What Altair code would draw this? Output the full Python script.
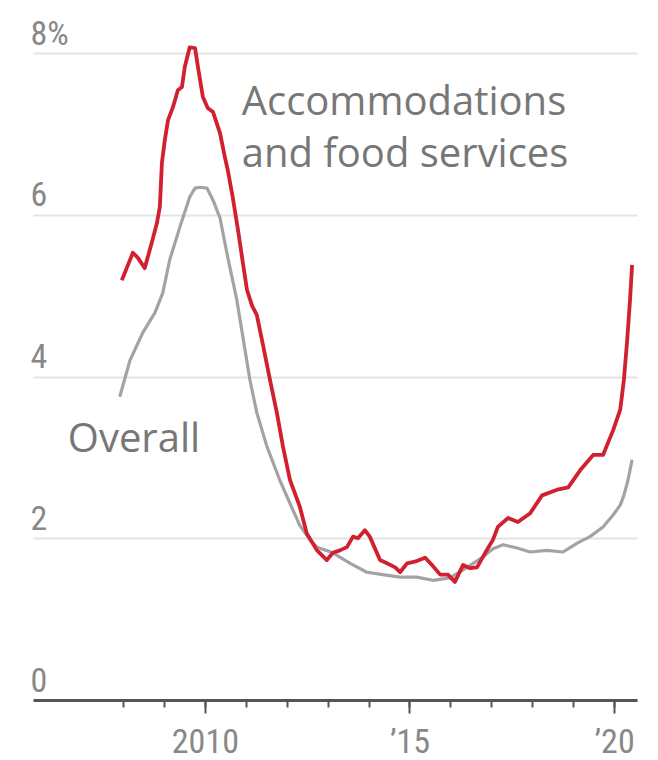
import altair as alt
import pandas as pd

# Accommodations and food services (red)
acc_years = [2007.97, 2008.09, 2008.24, 2008.36, 2008.53, 2008.70, 2008.83, 2008.90, 2008.95, 2009.02,
             2009.10, 2009.22, 2009.34, 2009.44, 2009.51, 2009.63, 2009.76, 2009.83, 2009.95, 2010.07,
             2010.20, 2010.37, 2010.49, 2010.56, 2010.68, 2010.81, 2010.93, 2011.03, 2011.15, 2011.27,
             2011.42, 2011.59, 2011.76, 2011.91, 2012.08, 2012.32, 2012.49, 2012.74, 2012.98, 2013.13,
             2013.30, 2013.47, 2013.62, 2013.74, 2013.91, 2014.03, 2014.28, 2014.45, 2014.65, 2014.77,
             2014.94, 2015.13, 2015.38, 2015.55, 2015.75, 2015.94, 2016.11, 2016.31, 2016.48, 2016.65,
             2016.85, 2017.04, 2017.16, 2017.41, 2017.65, 2017.95, 2018.24, 2018.61, 2018.88, 2019.17,
             2019.49, 2019.73, 2019.98, 2020.15, 2020.24, 2020.32, 2020.39, 2020.44]
acc_values = [5.19, 5.34, 5.53, 5.47, 5.34, 5.65, 5.90, 6.10, 6.64, 6.92,
              7.17, 7.33, 7.54, 7.58, 7.83, 8.07, 8.06, 7.83, 7.46, 7.32,
              7.27, 7.01, 6.71, 6.55, 6.22, 5.81, 5.40, 5.07, 4.88, 4.76,
              4.39, 3.96, 3.55, 3.13, 2.72, 2.39, 2.06, 1.85, 1.73, 1.82,
              1.85, 1.89, 2.02, 2.00, 2.10, 2.02, 1.73, 1.69, 1.64, 1.58,
              1.69, 1.71, 1.76, 1.67, 1.55, 1.55, 1.46, 1.67, 1.63, 1.64,
              1.82, 1.98, 2.14, 2.25, 2.20, 2.31, 2.53, 2.60, 2.63, 2.84,
              3.03, 3.03, 3.34, 3.59, 3.96, 4.45, 4.95, 5.38]

# Overall (gray)
all_years = [2007.92, 2008.17, 2008.48, 2008.78, 2008.97, 2009.14, 2009.39, 2009.63, 2009.76, 2009.88,
             2010.05, 2010.20, 2010.37, 2010.56, 2010.78, 2010.98, 2011.10, 2011.27, 2011.52, 2011.83,
             2012.15, 2012.32, 2012.57, 2012.74, 2013.13, 2013.55, 2013.96, 2014.35, 2014.77, 2015.18,
             2015.57, 2015.99, 2016.41, 2016.80, 2017.04, 2017.29, 2017.63, 2017.95, 2018.36, 2018.75,
             2019.10, 2019.41, 2019.73, 2019.98, 2020.15, 2020.24, 2020.34, 2020.44]
all_values = [3.75, 4.20, 4.54, 4.79, 5.03, 5.44, 5.85, 6.22, 6.33, 6.34,
              6.33, 6.18, 5.96, 5.47, 4.95, 4.33, 3.96, 3.55, 3.13, 2.72,
              2.35, 2.16, 1.98, 1.89, 1.82, 1.69, 1.58, 1.55, 1.52, 1.52,
              1.48, 1.51, 1.64, 1.77, 1.87, 1.92, 1.88, 1.83, 1.85, 1.83,
              1.94, 2.02, 2.14, 2.29, 2.41, 2.53, 2.72, 2.97]

y_ticks = [0, 2, 4, 6, 8]
minor_x_ticks = list(range(2008, 2021))
major_x_ticks = [2010, 2015, 2020]
x_domain = [2005.8, 2020.56]
y_domain = [0, 8]

label_texts = ["Accommodations", "and food services", "Overall"]
label_years = [2010.90, 2010.90, 2006.65]
label_values = [7.23, 6.59, 3.07]

RED = "#d1202f"
GRAY = "#a3a3a3"
TICK_FONT = "Liberation Sans Narrow, Roboto Condensed, Lato, sans-serif"

df_acc = pd.DataFrame({"year": acc_years, "rate": acc_values})
df_all = pd.DataFrame({"year": all_years, "rate": all_values})
df_lab = pd.DataFrame({"year": label_years, "rate": label_values, "text": label_texts})

x_scale = alt.Scale(domain=x_domain, nice=False, zero=False)
y_scale = alt.Scale(domain=y_domain, nice=False)

minor_axis = alt.Axis(
    orient="bottom",
    values=minor_x_ticks,
    labels=False,
    grid=False,
    domainColor="#555555",
    domainWidth=3,
    tickColor="#555555",
    tickWidth=2,
    tickSize=7,
    title=None,
)

major_axis = alt.Axis(
    orient="bottom",
    values=major_x_ticks,
    labelExpr="datum.value == 2010 ? '2010' : datum.value == 2015 ? '\u201915' : '\u201920'",
    grid=False,
    domain=False,
    tickColor="#555555",
    tickWidth=2,
    tickSize=13,
    labelFont=TICK_FONT,
    labelFontSize=34,
    labelColor="#888888",
    labelPadding=12,
    labelBaseline="top",
    labelFlush=False,
    labelOverlap=False,
    title=None,
)

y_axis = alt.Axis(
    values=y_ticks,
    format="d",
    labelExpr="datum.value == 8 ? '8%' : datum.label",
    grid=True,
    gridColor="#e4e4e4",
    gridWidth=2,
    domain=False,
    ticks=False,
    tickSize=0,
    labelAlign="left",
    labelBaseline="alphabetic",
    labelOffset=-9,
    labelPadding=3,
    labelFont=TICK_FONT,
    labelFontSize=34,
    labelColor="#888888",
    title=None,
)

overall = alt.Chart(df_all).mark_line(color=GRAY, strokeWidth=3.2, strokeJoin="round").encode(
    x=alt.X("year:Q", scale=x_scale, axis=minor_axis),
    y=alt.Y("rate:Q", scale=y_scale, axis=y_axis),
)
acc = alt.Chart(df_acc).mark_line(color=RED, strokeWidth=3.8, strokeJoin="round").encode(
    x=alt.X("year:Q", scale=x_scale, axis=major_axis),
    y=alt.Y("rate:Q", scale=y_scale, axis=y_axis),
)
labels = alt.Chart(df_lab).mark_text(
    align="left", baseline="alphabetic", font="Open Sans", fontSize=40, color="#777777"
).encode(
    x=alt.X("year:Q", scale=x_scale, axis=None),
    y=alt.Y("rate:Q", scale=y_scale, axis=y_axis),
    text="text:N",
)

chart = alt.layer(overall, acc, labels).resolve_axis(x="independent").properties(
    width=604,
    height=647,
    background="white",
    autosize=alt.AutoSizeParams(type="none"),
    padding={"left": 33, "top": 53, "right": 21, "bottom": 60},
).configure_view(stroke=None, strokeWidth=0)

chart.save("out.html", embed_options={"renderer": "svg", "actions": False})
